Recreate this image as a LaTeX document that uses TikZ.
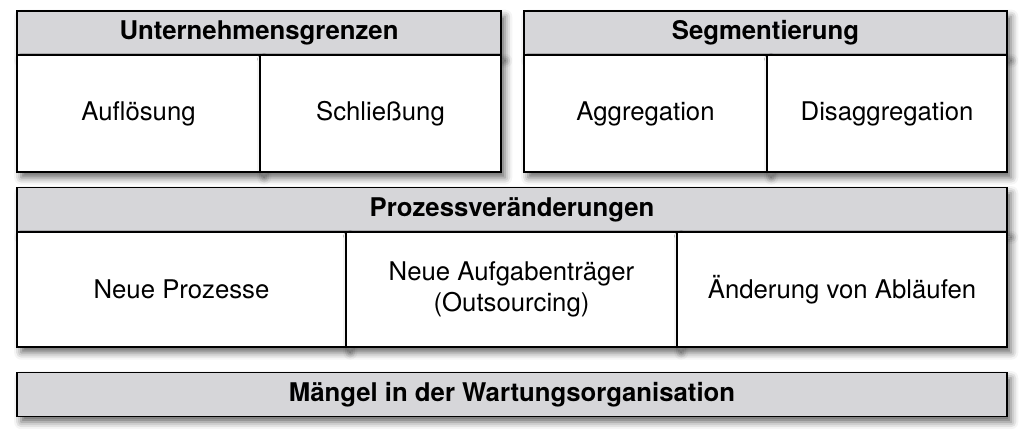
\documentclass[tikz,border=0pt]{standalone}
\usepackage{fontspec}
\setmainfont{TeX Gyre Heros}
\usepackage{xcolor}
\usepackage{tikz}
\usetikzlibrary{calc,shadows.blur}

\definecolor{headgray}{RGB}{214,214,217}

\begin{document}
\begin{tikzpicture}[
        x=0.025cm, y=-0.025cm,
        font=\fontsize{18.3}{22.5}\selectfont,
        shade/.style = {blur shadow={shadow xshift=3pt, shadow yshift=-4pt, shadow blur radius=5pt, shadow opacity=60}},
        headbox/.style = {draw, line width=1.3pt, rectangle, fill=headgray, minimum height=44*0.025cm, font=\fontsize{18.3}{22.5}\selectfont\bfseries, inner sep=0pt, shade},
        cellbox/.style = {draw, line width=1.3pt, rectangle, fill=white, align=center, inner sep=0pt, shade}
    ]
    \useasboundingbox (0,0) rectangle (1024,434);

    % Unternehmensgrenzen at the top left
    \node[headbox, minimum width=484*0.025cm] (ug) at (259,33) {Unternehmensgrenzen};
    \node[cellbox, minimum width=243*0.025cm, minimum height=117*0.025cm] (aufl) at (138.5,113.5) {Auflösung};
    \node[cellbox, minimum width=241*0.025cm, minimum height=117*0.025cm] (schl) at (380.5,113.5) {Schließung};

    % Segmentierung at the top right
    \node[headbox, minimum width=483*0.025cm] (seg) at (765.5,33) {Segmentierung};
    \node[cellbox, minimum width=243*0.025cm, minimum height=117*0.025cm] (aggr) at (645.5,113.5) {Aggregation};
    \node[cellbox, minimum width=240*0.025cm, minimum height=117*0.025cm] (disaggr) at (887,113.5) {Disaggregation};

    % Prozessveraenderungen in the middle
    \node[headbox, minimum width=990*0.025cm] (proz) at (512,209.5) {Prozessveränderungen};
    \node[cellbox, minimum width=329*0.025cm, minimum height=115*0.025cm] (neu) at (181.5,289.5) {Neue Prozesse};
    \node[cellbox, minimum width=331*0.025cm, minimum height=115*0.025cm] (aufg) at (511.5,289.5) {Neue Aufgabenträger\\(Outsourcing)};
    \node[cellbox, minimum width=330*0.025cm, minimum height=115*0.025cm] (abl) at (842,289.5) {Änderung von Abläufen};

    % Maengel at the bottom
    \node[headbox, minimum width=990*0.025cm] (maengel) at (512,394.5) {Mängel in der Wartungsorganisation};

    \end{tikzpicture}
\end{document}
